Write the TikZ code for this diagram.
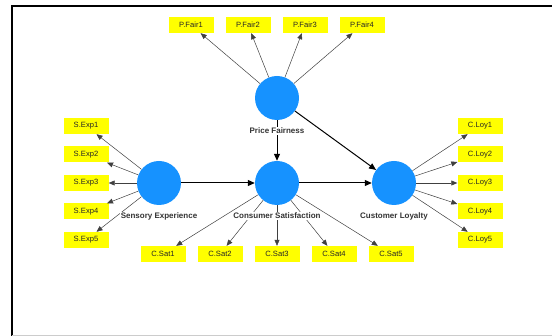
\documentclass[tikz,border=0pt]{standalone}
\usepackage{fontspec}
\setmainfont{Liberation Sans}
\usetikzlibrary{arrows.meta,positioning}
\definecolor{lvblue}{RGB}{22,146,255}
\definecolor{indyellow}{RGB}{255,255,0}
\tikzset{
  latent/.style={circle,fill=lvblue,minimum size=44pt,inner sep=0},
  indicator/.style={fill=indyellow,minimum width=45pt,minimum height=16pt,inner sep=0,font=\fontsize{7.6}{9}\selectfont,text=black!85},
  lvname/.style={fill=white,inner sep=1pt,font=\fontsize{8}{9}\selectfont\bfseries,text=black!80},
  load/.style={-{Triangle[length=6pt,width=5pt]},black!75,line width=0.5pt},
  inner/.style={-{Triangle[length=7pt,width=6pt]},black,line width=1pt}
}
\begin{document}
\begin{tikzpicture}[x=1pt,y=-1pt]
			\useasboundingbox (0,0) rectangle (552,336);
			\draw [line width=1.5pt] (11,6)--(552,6);
			\draw [line width=1.5pt] (12,6)--(12,336);
			\draw [black!20] (12,335.5)--(552,335.5);
			
			\node [latent] (pf) at (277,98) {};
			\node [latent] (se) at (159,183) {};
			\node [latent] (cs) at (277,183) {};
			\node [latent] (cl) at (394,183) {};
			
			\foreach \i in {1,...,4}{
				\node [indicator] (pfair\i) at (134+57*\i,25) {P.Fair\i};
				\draw [load] (pf)--(pfair\i);
			}
			\foreach \i in {1,...,5}{
				\node [indicator] (sexp\i) at (86,97.5+28.5*\i) {S.Exp\i};
				\draw [load] (se)--(sexp\i);
				\node [indicator] (csat\i) at (106+57*\i,254) {C.Sat\i};
				\draw [load] (cs)--(csat\i);
				\node [indicator] (cloy\i) at (480,97.5+28.5*\i) {C.Loy\i};
				\draw [load] (cl)--(cloy\i);
			}
			
			\draw [inner] (se)--(cs);
			\draw [inner] (pf)--(cs);
			\draw [inner] (pf)--(cl);
			\draw [inner] (cs)--(cl);
			
			\node [lvname, below=6.5pt of pf] (pfname) {Price Fairness};
			\node [lvname, below=6.5pt of se] (sename) {Sensory Experience};
			\node [lvname, below=6.5pt of cs] (csname) {Consumer Satisfaction};
			\node [lvname, below=6.5pt of cl] (clname) {Customer Loyalty};
			\end{tikzpicture}
\end{document}
